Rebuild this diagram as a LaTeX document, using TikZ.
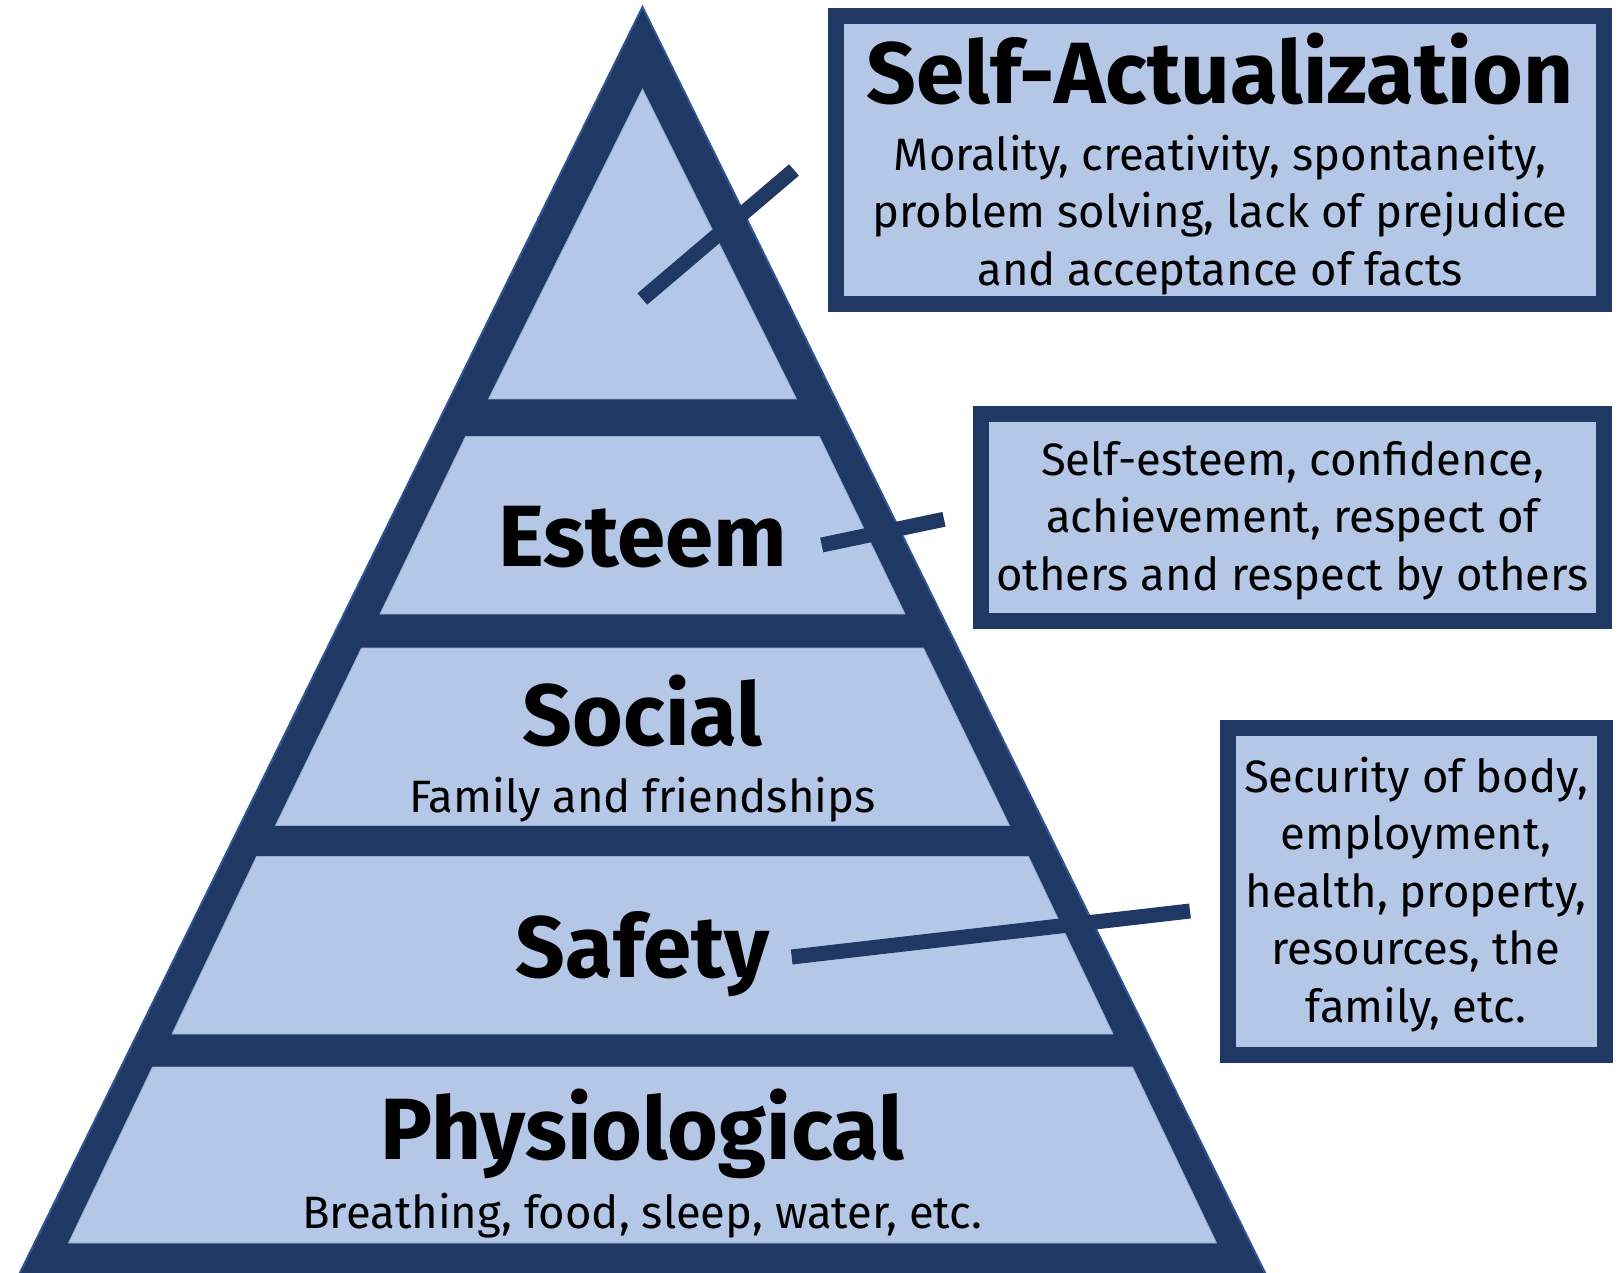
\documentclass[tikz,border=0pt]{standalone}
\usepackage{fontspec}
\setmainfont{Fira Sans}
\definecolor{navy}{HTML}{203864}
\definecolor{pale}{HTML}{B4C7E7}
\definecolor{rim}{HTML}{2F5597}
\begin{document}
\begin{tikzpicture}[x=0.5pt,y=-0.5pt,
  band/.style={fill=pale, draw=pale!80!navy, line width=0.4pt},
  link/.style={draw=navy, line width=7.5pt},
  infobox/.style={draw=navy, fill=pale, line width=8pt, rectangle, inner sep=0pt},
  title/.style={font=\fontsize{43.5}{50}\selectfont\bfseries, anchor=base, inner sep=0pt},
  body/.style={font=\fontsize{22.7}{28.75}\selectfont, anchor=base, align=center, inner sep=0pt}]
\useasboundingbox (0,0) rectangle (1618,1273);
\fill[white] (0,0) rectangle (1618,1273);

% outer frame of the pyramid
\filldraw[fill=navy, draw=rim, line width=1pt]
  (642.5,7) -- (1273.5,1290) -- (11.5,1290) -- cycle;

% the five levels
\path[band] (642.5,89) -- (796.5,399) -- (488.5,399) -- cycle;
\path[band] (465.5,436.5) -- (819.5,436.5) -- (905,614) -- (380,614) -- cycle;
\path[band] (361.5,648) -- (923.5,648) -- (1009.5,825.5) -- (275.5,825.5) -- cycle;
\path[band] (256.5,856.5) -- (1028.5,856.5) -- (1113,1034) -- (172,1034) -- cycle;
\path[band] (152.5,1067) -- (1132.5,1067) -- (1216.5,1243) -- (68.5,1243) -- cycle;

% level labels
\node[title] (esteem) at (642.5,566) {Esteem};
\node[title] (social) at (642.5,745) {Social};
\node[body] (socialtxt) at (642.5,812) {Family and friendships};
\node[title] (safety) at (642.5,977) {Safety};
\node[title] (physio) at (642.5,1159) {Physiological};
\node[body] (physiotxt) at (642.5,1228) {Breathing, food, sleep, water, etc.};

% description boxes
\node[infobox, minimum width=384pt, minimum height=144pt] (sabox) at (1220,160) {};
\node[infobox, minimum width=311.5pt, minimum height=103.5pt] (esbox) at (1292.5,517) {};
\node[infobox, minimum width=188.25pt, minimum height=163.35pt] (sfbox) at (1416.25,891.35) {};

% box texts (multi-line nodes sit on the baseline of their last line)
\node[title] (satitle) at (1220,104) {Self-Actualization};
\node[body] (satxt) at (1220,285.5) {Morality, creativity, spontaneity,\\problem solving, lack of prejudice\\and acceptance of facts};
\node[body] (estxt) at (1292.5,590) {Self-esteem, confidence,\\achievement, respect of\\others and respect by others};
\node[body] (sftxt) at (1416,1022) {Security of body,\\employment,\\health, property,\\resources, the\\family, etc.};

% connectors
\coordinate (sain) at (642.3,299);
\coordinate (saout) at (794,170);
\coordinate (esin) at (821.7,545);
\coordinate (esout) at (944,519.3);
\coordinate (sfin) at (791.7,957);
\coordinate (sfout) at (1190,911);
\draw[link] (sain) -- (saout);
\draw[link] (esin) -- (esout);
\draw[link] (sfin) -- (sfout);
\end{tikzpicture}
\end{document}
